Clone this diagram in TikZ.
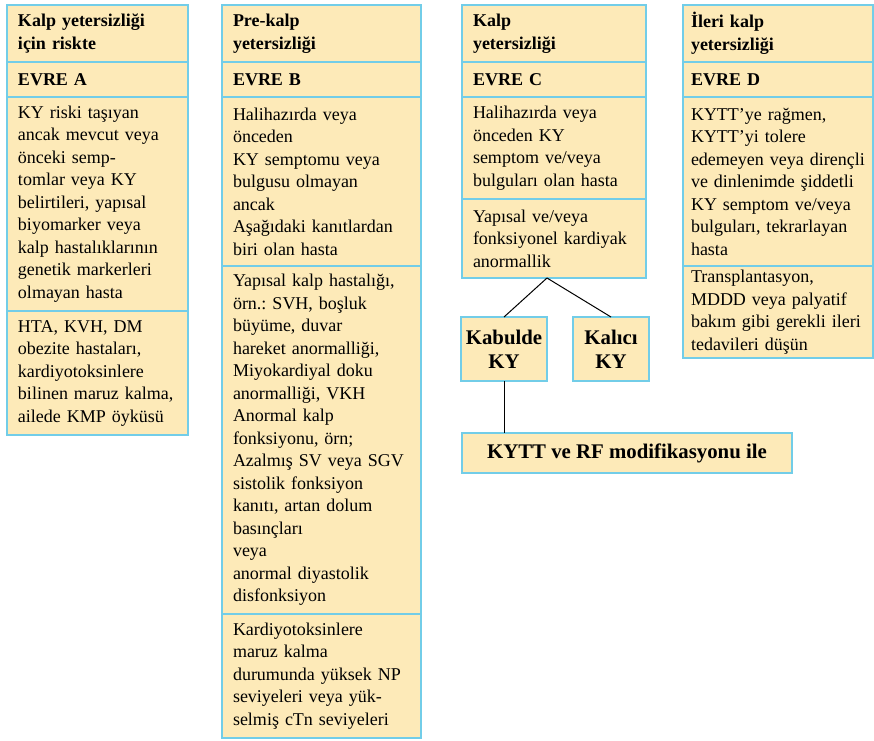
\documentclass[tikz,border=0pt]{standalone}
\usepackage{fontspec}
\setmainfont{Liberation Serif}
\usetikzlibrary{positioning}

\definecolor{cellfill}{HTML}{FDEAB8}
\definecolor{cellline}{HTML}{72CDE8}

\begin{document}
\begin{tikzpicture}[
    x=1pt, y=1pt,
    cell/.style = {shape=rectangle, draw=cellline, fill=cellfill,
      line width=0.8pt, outer sep=0pt, align=left, inner xsep=5.5pt, inner ysep=1.5pt,
      font=\fontsize{9}{11.25}\selectfont\frenchspacing},
    head/.style = {cell, font=\fontsize{9}{11.25}\selectfont\bfseries},
    colA/.style = {text width=79.5pt},
    colB/.style = {text width=88.5pt},
    colC/.style = {text width=81pt},
    colD/.style = {inner xsep=4pt, text width=87pt},
    kybox/.style = {shape=rectangle, draw=cellline, fill=cellfill,
      line width=0.8pt, outer sep=0pt, align=center, inner sep=1pt,
      font=\fontsize{10.4}{12}\selectfont\bfseries},
    line/.style = {draw, line width=0.5pt}]

    \useasboundingbox (0,0) rectangle (437,-370);

    % EVRE A
    \node[head, colA, minimum height=28.5pt, anchor=north west] (a1) at (3.5,-2.5)
      {Kalp yetersizliği\\için riskte};
    \node[head, colA, minimum height=17.5pt, below=0pt of a1] (a2) {EVRE A};
    \node[cell, colA, minimum height=107pt, below=0pt of a2] (a3)
      {KY riski taşıyan\\ancak mevcut veya\\önceki semp-\\tomlar veya KY\\belirtileri, yapısal\\biyomarker veya\\kalp hastalıklarının\\genetik markerleri\\olmayan hasta};
    \node[cell, colA, minimum height=62pt, below=0pt of a3] (a4)
      {HTA, KVH, DM\\obezite hastaları,\\kardiyotoksinlere\\bilinen maruz kalma,\\ailede KMP öyküsü};

    % EVRE B
    \node[head, colB, minimum height=28.5pt, anchor=north west] (b1) at (111,-2.5)
      {Pre-kalp\\yetersizliği};
    \node[head, colB, minimum height=17.5pt, below=0pt of b1] (b2) {EVRE B};
    \node[cell, colB, minimum height=84.5pt, below=0pt of b2] (b3)
      {Halihazırda veya\\önceden\\KY semptomu veya\\bulgusu olmayan\\ancak\\Aşağıdaki kanıtlardan\\biri olan hasta};
    \node[cell, colB, minimum height=174pt, below=0pt of b3] (b4)
      {Yapısal kalp hastalığı,\\örn.: SVH, boşluk\\büyüme, duvar\\hareket anormalliği,\\Miyokardiyal doku\\anormalliği, VKH\\Anormal kalp\\fonksiyonu, örn;\\Azalmış SV veya SGV\\sistolik fonksiyon\\kanıtı, artan dolum\\basınçları\\veya\\anormal diyastolik\\disfonksiyon};
    \node[cell, colB, minimum height=62pt, below=0pt of b4] (b5)
      {Kardiyotoksinlere\\maruz kalma\\durumunda yüksek NP\\seviyeleri veya yük-\\selmiş cTn seviyeleri};

    % EVRE C
    \node[head, colC, minimum height=28.5pt, anchor=north west] (c1) at (231,-2.5)
      {Kalp\\yetersizliği};
    \node[head, colC, minimum height=17.5pt, below=0pt of c1] (c2) {EVRE C};
    \node[cell, colC, minimum height=51pt, below=0pt of c2] (c3)
      {Halihazırda veya\\önceden KY\\semptom ve/veya\\bulguları olan hasta};
    \node[cell, colC, minimum height=39.5pt, below=0pt of c3] (c4)
      {Yapısal ve/veya\\fonksiyonel kardiyak\\anormallik};

    \node[kybox, minimum width=43pt, minimum height=32pt, anchor=north west] (kabul)
      at (230.5,-158.5) {Kabulde\\KY};
    \node[kybox, minimum width=38pt, minimum height=32pt, anchor=north west] (kalici)
      at (286.5,-158.5) {Kalıcı\\KY};
    \node[kybox, minimum width=165pt, minimum height=20pt, anchor=north west] (tedavi)
      at (231,-216.5) {KYTT ve RF modifikasyonu ile};

    % EVRE D
    \node[head, colD, minimum height=28.5pt, anchor=north west] (d1) at (341.5,-2.5)
      {İleri kalp\\yetersizliği};
    \node[head, colD, minimum height=17.5pt, below=0pt of d1] (d2) {EVRE D};
    \node[cell, colD, minimum height=84.5pt, below=0pt of d2] (d3)
      {KYTT'ye rağmen,\\KYTT'yi tolere\\edemeyen veya dirençli\\ve dinlenimde şiddetli\\KY semptom ve/veya\\bulguları, tekrarlayan\\hasta};
    \node[cell, colD, minimum height=46pt, below=0pt of d3] (d4)
      {Transplantasyon,\\MDDD veya palyatif\\bakım gibi gerekli ileri\\tedavileri düşün};

    \draw[line] ([xshift=-3.5pt]c4.south) -- (kabul.north);
    \draw[line] ([xshift=-3.5pt]c4.south) -- (kalici.north);
    \draw[line] (kabul.south) -- (kabul.south |- tedavi.north);
\end{tikzpicture}
\end{document}
